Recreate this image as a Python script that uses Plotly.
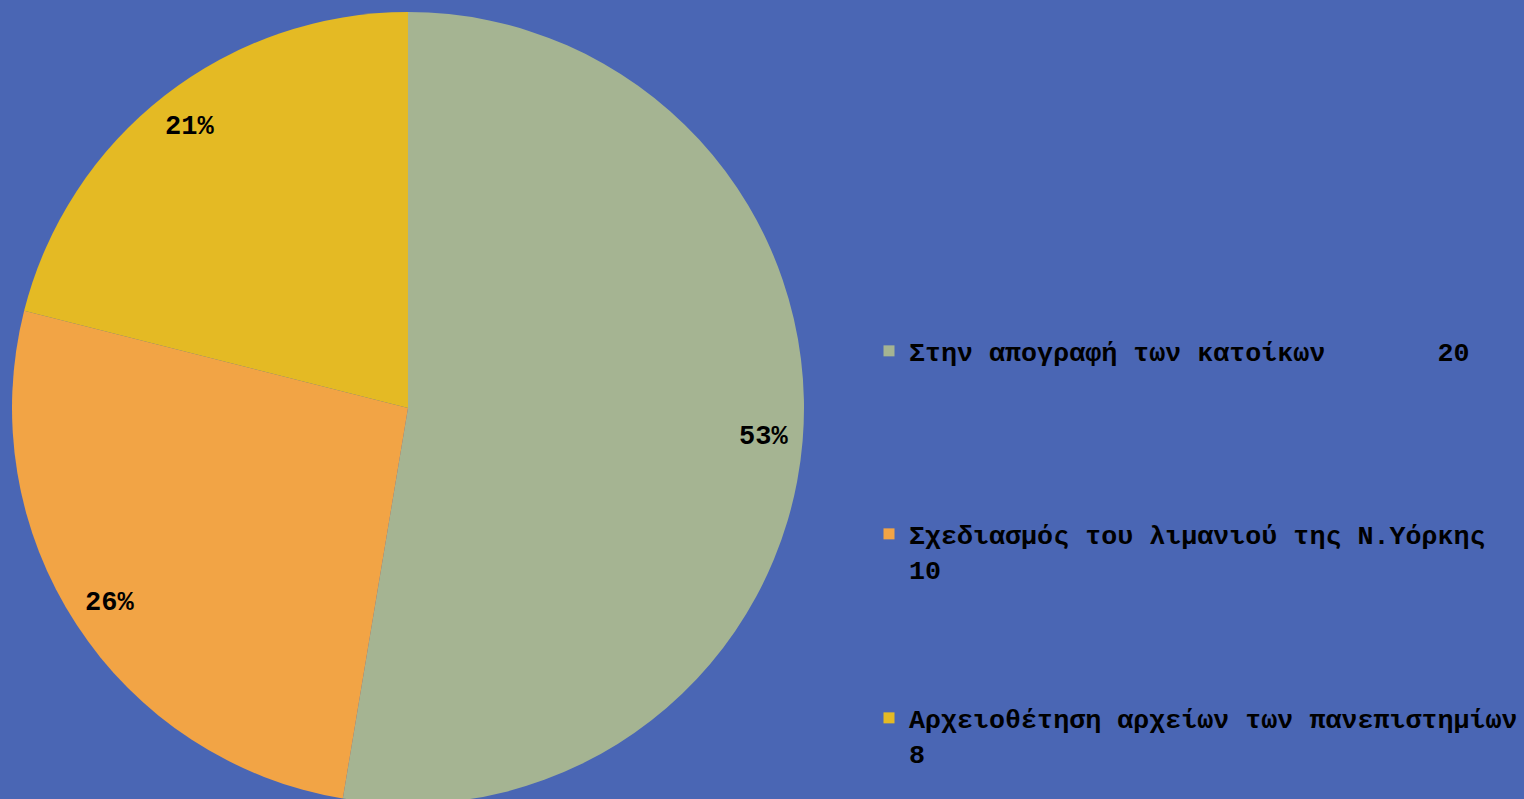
import plotly.graph_objects as go
import math

labels = ["Στην απογραφή των κατοίκων", "Σχεδιασμός του λιμανιού της Ν.Υόρκης", "Αρχειοθέτηση αρχείων των πανεπιστημίων"]
values = [20, 10, 8]
legend_texts = [
    "Στην απογραφή των κατοίκων\u00a0\u00a0\u00a0\u00a0\u00a0\u00a0\u00a020",
    "Σχεδιασμός του λιμανιού της Ν.Υόρκης<br>10",
    "Αρχειοθέτηση αρχείων των πανεπιστημίων<br>8",
]
colors = ["#A5B492", "#F2A445", "#E4BA24"]
bg = "#4A66B4"

W, H = 1524, 816
FONT = "Liberation Mono"
cx, cy, R = 408, 408, 396

fig = go.Figure()
fig.add_trace(go.Pie(
    labels=labels, values=values, sort=False, direction="clockwise", rotation=0,
    marker=dict(colors=colors, line=dict(width=0)),
    textinfo="none", hoverinfo="label+value+percent", showlegend=False,
    domain=dict(x=[12 / W, 804 / W], y=[0, 1]),
))

total = sum(values)
cum = 0
for v in values:
    mid = (cum + v / 2) / total
    th = 2 * math.pi * mid
    px = cx + 0.9 * R * math.sin(th)
    py = cy - 0.9 * R * math.cos(th)
    fig.add_annotation(x=px / W, y=1 - py / H, xref="paper", yref="paper",
                       xanchor="center", yanchor="middle",
                       text=f"{round(100 * v / total)}%", showarrow=False,
                       font=dict(family=FONT, size=27, color="#000", weight="bold"))
    cum += v

legend_y = [353, 536, 720]
for i, (t, c) in enumerate(zip(legend_texts, colors)):
    name = "legend" if i == 0 else f"legend{i + 1}"
    fig.add_trace(go.Scatter(x=[None], y=[None], mode="markers", name=t,
                             marker=dict(symbol="square", size=11, color=c),
                             legend=name, showlegend=True, hoverinfo="skip"))
    fig.update_layout({name: dict(
        x=869 / W, y=1 - (legend_y[i] - 26) / H, xanchor="left", yanchor="top",
        bgcolor="rgba(0,0,0,0)", valign="top", itemwidth=30,
        font=dict(family=FONT, size=26.7, color="#000", weight="bold"),
    )})

fig.update_layout(
    width=W, height=H, autosize=False,
    margin=dict(l=0, r=0, t=0, b=0),
    paper_bgcolor=bg, plot_bgcolor=bg,
    xaxis=dict(visible=False), yaxis=dict(visible=False),
)

fig.write_html("out.html", post_script="document.body.style.overflow='hidden';document.body.style.margin='0';")
